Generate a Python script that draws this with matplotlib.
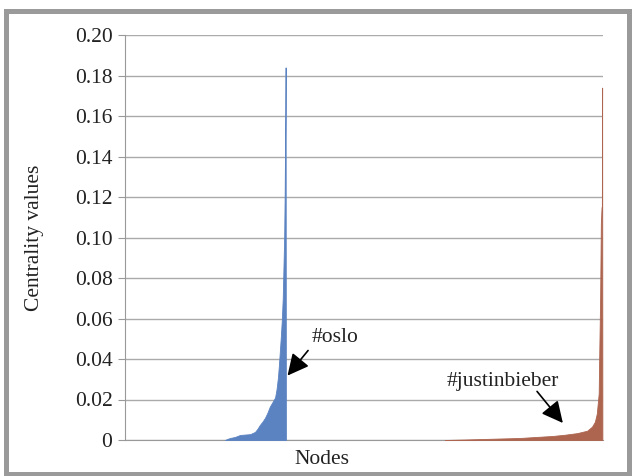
import matplotlib
matplotlib.use("Agg")
import matplotlib.pyplot as plt
from matplotlib.patches import Rectangle

# Node rank positions along the x axis (0..1000) and centrality values
oslo_nodes = [209, 215, 220, 230, 241, 252, 262, 272, 277, 282, 288, 293, 298, 303,
              308, 314, 317, 320, 322, 324, 326, 328, 330, 331, 332, 333, 334, 335,
              335.5, 336, 336.6]
oslo_values = [0.0, 0.0006, 0.001, 0.0015, 0.0025, 0.0027, 0.0029, 0.004, 0.0055,
               0.0074, 0.0092, 0.011, 0.0135, 0.0165, 0.0185, 0.021, 0.025, 0.031,
               0.037, 0.044, 0.051, 0.059, 0.07, 0.08, 0.09, 0.10, 0.12, 0.15, 0.162,
               0.184, 0.0]

bieber_nodes = [669, 720, 780, 826, 860, 895, 920, 946, 967, 977, 983, 987, 991,
                992, 994, 995.5, 997, 997.6, 998.2, 998.7]
bieber_values = [0.0, 0.0003, 0.0007, 0.001, 0.0015, 0.002, 0.0026, 0.0034, 0.0046,
                 0.0066, 0.009, 0.013, 0.023, 0.04, 0.07, 0.107, 0.115, 0.115,
                 0.174, 0.0]

y_ticks = [0, 0.02, 0.04, 0.06, 0.08, 0.10, 0.12, 0.14, 0.16, 0.18, 0.20]
y_tick_labels = ["0", "0.02", "0.04", "0.06", "0.08", "0.10", "0.12", "0.14",
                 "0.16", "0.18", "0.20"]

plt.rcParams['font.family'] = ['Liberation Serif', 'DejaVu Serif']

fig = plt.figure(figsize=(6.34, 4.76), dpi=100)
W, H = 634, 476
ax = fig.add_axes([125 / W, 1 - 440 / H, (603 - 125) / W, (440 - 35) / H])

blue = '#5B83C2'
red = '#AD6550'
ax.fill_between(oslo_nodes, oslo_values, 0, color=blue, linewidth=0.6,
                edgecolor=blue, zorder=3)
ax.fill_between(bieber_nodes, bieber_values, 0, color=red, linewidth=0.6,
                edgecolor=red, zorder=3)

ax.set_xlim(0, 1000)
ax.set_ylim(0, 0.2)
ax.set_yticks(y_ticks)
ax.set_yticklabels(y_tick_labels, fontsize=15.5)
ax.set_xticks([])
ax.yaxis.grid(True, color='#AAAAAA', linewidth=1)
ax.set_axisbelow(True)
for s in ['top', 'right']:
    ax.spines[s].set_visible(False)
ax.spines['left'].set_color('#999999')
ax.spines['bottom'].set_color('#999999')
ax.tick_params(axis='y', direction='out', length=5, color='#999999', pad=4,
               labelcolor='#222222')
ax.set_ylabel("Centrality values", fontsize=15.5, color='#222222', labelpad=22)
ax.set_xlabel("Nodes", fontsize=15.5, color='#222222', labelpad=4)
ax.xaxis.set_label_coords(0.412, -0.025, transform=ax.transAxes)
ax.xaxis.label.set_va('top')

arrowprops = dict(arrowstyle='-|>,head_length=1.3,head_width=0.65', color='black',
                  lw=1.2, shrinkA=0, shrinkB=0)
ax.text(439, 0.0505, "#oslo", fontsize=15.5, color='#222222', ha='center',
        va='center')
ax.annotate("", xy=(340, 0.0318), xytext=(383, 0.0442), arrowprops=arrowprops)
ax.text(791, 0.0291, "#justinbieber", fontsize=15.5, color='#222222', ha='center',
        va='center')
ax.annotate("", xy=(916, 0.0084), xytext=(862, 0.0240), arrowprops=arrowprops)

# gray frame around the figure
fig.patches.append(Rectangle((5.5 / W, 2.5 / H), (629 - 5.5) / W, (465.5 - 2.5) / H,
                             transform=fig.transFigure, fill=False,
                             edgecolor='#9A9A9A', linewidth=3.6))

fig.savefig("out.png", dpi=100)
